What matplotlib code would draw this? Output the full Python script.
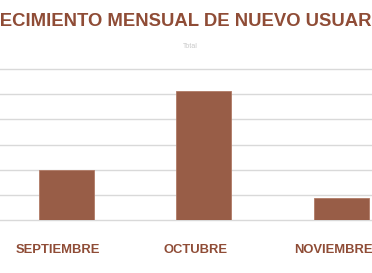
import matplotlib.pyplot as plt
from matplotlib.transforms import ScaledTranslation

months = ["SEPTIEMBRE", "OCTUBRE", "NOVIEMBRE"]
new_users = [2.0, 5.13, 0.87]
grid_ticks = [0, 1, 2, 3, 4, 5, 6]

BAR = "#985D47"
TEXT = "#8F4C36"
GRID = "#D9D9D9"

W, H = 372, 273
fig = plt.figure(figsize=(W / 100, H / 100), dpi=100)

# plot area: baseline at y=220px, top gridline at y=69px (figure is cropped at sides)
y0 = (H - 220.3) / H
ax = fig.add_axes([0, y0, 1, (220.3 - 69.0) / H])
ax.bar(range(len(months)), new_users, width=0.4, color=BAR, edgecolor="#B07A66",
       linewidth=0.6, zorder=3)
ax.set_xlim((0 - 66) / 137.5, (W - 66) / 137.5)
ax.set_ylim(0, 6)
for t in grid_ticks:
    ax.axhline(t, color=GRID, linewidth=1.0, zorder=1, clip_on=False)
for s in ax.spines.values():
    s.set_visible(False)
ax.set_yticks([])
ax.set_xticks(range(len(months)))
ax.set_xticklabels(months, fontsize=9.4, fontweight="bold", color=TEXT,
                   family="Liberation Sans")
ax.tick_params(axis="x", length=0, pad=17)
# labels sit a little left of the bar centres in the reference
shift = ScaledTranslation(-8 / 100, 0, fig.dpi_scale_trans)
for lbl in ax.get_xticklabels():
    lbl.set_transform(lbl.get_transform() + shift)

fig.text(188 / W, 1 - 21.5 / H, "CRECIMIENTO MENSUAL DE NUEVO USUARIOS",
         ha="center", va="center", fontsize=13.3, fontweight="bold",
         color=TEXT, family="Liberation Sans")
fig.text(190 / W, 1 - 46 / H, "Total", ha="center", va="center",
         fontsize=5, color="#C8C8C8", family="Liberation Sans")

fig.savefig("out.png", dpi=100, facecolor="white")
